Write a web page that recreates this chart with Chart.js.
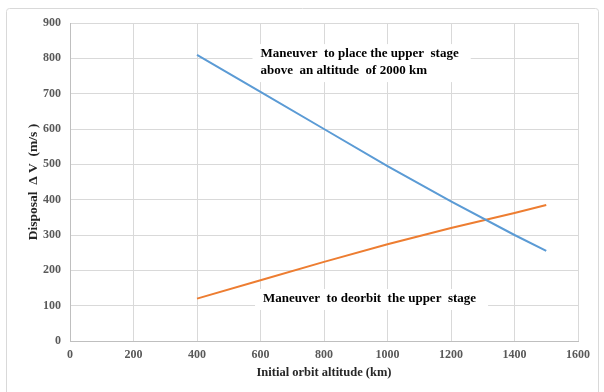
<!DOCTYPE html>
<html lang="en">
<head>
<meta charset="UTF-8">
<title>Disposal delta-V vs initial orbit altitude</title>
<script src="https://cdn.jsdelivr.net/npm/chart.js@4.4.0/dist/chart.umd.min.js"></script>
<style>
  body { margin: 0; background: #fff; }
  #wrap { width: 604px; height: 392px; }
</style>
</head>
<body>
<div id="wrap"><canvas id="chart" width="604" height="392"></canvas></div>
<script>
/* ---- data ---- */
const altitudes = [400, 600, 800, 1000, 1200, 1400, 1500];
const raiseDv   = [810, 705, 600, 495, 395, 300, 255];
const deorbitDv = [120, 172, 224, 274, 320, 362, 385];
const seriesNames = ["Maneuver to place the upper stage above an altitude of 2000 km",
                     "Maneuver to deorbit the upper stage"];
const notes = [
  { x: 600, y: 812, lines: ["Maneuver  to place the upper  stage", "above  an altitude  of 2000 km"] },
  { x: 608, y: 119, lines: ["Maneuver  to deorbit  the upper  stage"] }
];

const serif = "'Liberation Serif', 'DejaVu Serif', serif";

// outer frame + text notes with white backing
const extras = {
  id: "extras",
  beforeDraw(chart) {
    const ctx = chart.ctx;
    ctx.save();
    ctx.strokeStyle = "#d9d9d9";
    ctx.lineWidth = 1;
    ctx.beginPath();
    ctx.roundRect(6.5, 8.5, 592, 400, 3);
    ctx.stroke();
    ctx.restore();
  },
  afterDatasetsDraw(chart) {
    const { ctx, scales: { x, y } } = chart;
    ctx.save();
    ctx.font = "bold 13px " + serif;
    ctx.textBaseline = "middle";
    notes.forEach(n => {
      const px = x.getPixelForValue(n.x);
      const py = y.getPixelForValue(n.y);
      const w = Math.max(...n.lines.map(l => ctx.measureText(l).width));
      ctx.fillStyle = "#fff";
      ctx.fillRect(px - 8, py - 10, w + 20, n.lines.length * 17 + 4);
      ctx.fillStyle = "#000";
      n.lines.forEach((l, i) => ctx.fillText(l, px, py + i * 17));
    });
    ctx.restore();
  }
};

new Chart(document.getElementById("chart"), {
  type: "line",
  data: {
    datasets: [
      {
        label: seriesNames[0],
        data: altitudes.map((a, i) => ({ x: a, y: raiseDv[i] })),
        borderColor: "#5B9BD5",
        borderWidth: 2,
        pointRadius: 0,
        tension: 0
      },
      {
        label: seriesNames[1],
        data: altitudes.map((a, i) => ({ x: a, y: deorbitDv[i] })),
        borderColor: "#ED7D31",
        borderWidth: 2,
        pointRadius: 0,
        tension: 0
      }
    ]
  },
  options: {
    responsive: false,
    animation: false,
    layout: { padding: { left: 0, top: 23, right: 26, bottom: 0 } },
    plugins: { legend: { display: false }, tooltip: { enabled: false } },
    scales: {
      x: {
        type: "linear",
        min: 0, max: 1600,
        ticks: { stepSize: 200, padding: 7, color: "#595959", callback: v => String(v),
                 font: { family: serif, size: 12, weight: "bold" } },
        grid: { color: "#d9d9d9", drawTicks: false },
        border: { color: "#bfbfbf" },
        title: { display: true, text: "Initial orbit altitude (km)", color: "#262626",
                 font: { family: serif, size: 12.5, weight: "bold" }, padding: { top: 0, bottom: 12 } },
        afterFit: s => { s.height = 51; }
      },
      y: {
        min: 0, max: 900,
        ticks: { stepSize: 100, padding: 9, color: "#595959",
                 font: { family: serif, size: 12, weight: "bold" } },
        grid: { color: "#d9d9d9", drawTicks: false },
        border: { color: "#bfbfbf" },
        title: { display: true, text: "Disposal  Δ V  (m/s )", color: "#262626",
                 font: { family: serif, size: 13.5, weight: "bold" }, padding: { top: 25, bottom: 0 } },
        afterFit: s => { s.width = 70; }
      }
    }
  },
  plugins: [extras]
});
</script>
</body>
</html>
